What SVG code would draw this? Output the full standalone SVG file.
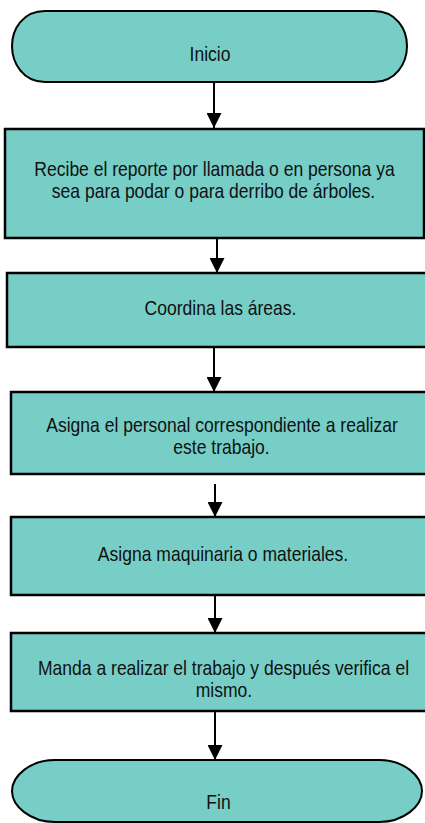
<svg xmlns="http://www.w3.org/2000/svg" width="425" height="823" viewBox="0 0 425 823">
<style>
.shape{fill:#76CEC7;stroke:#000;stroke-width:2.5}
.term{fill:#76CEC7;stroke:#000;stroke-width:2}
.lbl{font-family:"Liberation Sans",Arial,sans-serif;font-size:21px;fill:#111;text-anchor:middle}
.conn{stroke:#000;stroke-width:2;fill:none;marker-end:url(#ah)}
</style>
<defs>
<marker id="ah" markerUnits="userSpaceOnUse" markerWidth="15" markerHeight="15" viewBox="0 0 15 15" refX="15" refY="7.5" orient="auto">
<path d="M0,0 L15,7.5 L0,15 Z" fill="#000"/>
</marker>
</defs>
<rect width="425" height="823" fill="#fff"/>
<g id="connectors">
<line class="conn" x1="214" y1="82" x2="214" y2="128"/>
<line class="conn" x1="217" y1="239" x2="217" y2="273"/>
<line class="conn" x1="214" y1="348" x2="214" y2="392"/>
<line class="conn" x1="215" y1="484" x2="215" y2="517"/>
<line class="conn" x1="215" y1="596" x2="215" y2="633"/>
<line class="conn" x1="215" y1="712" x2="215" y2="760"/>
</g>
<g id="inicio">
<path class="term" d="M45,11 H374 C396,11 407,29 407,46 C407,63 396,82 374,82 H45 C23,82 12,63 12,46 C12,29 23,11 45,11 Z"/>
<text class="lbl" transform="translate(210,61) scale(0.835,1)">Inicio</text>
</g>
<g id="recibe">
<rect class="shape" x="5" y="129" width="419" height="109"/>
<text class="lbl" transform="translate(214.5,176) scale(0.835,1)">Recibe el reporte por llamada o en persona ya</text>
<text class="lbl" transform="translate(213.5,198) scale(0.835,1)">sea para podar o para derribo de árboles.</text>
</g>
<g id="coordina">
<rect class="shape" x="7" y="273" width="428" height="74"/>
<text class="lbl" transform="translate(220.5,315) scale(0.835,1)">Coordina las áreas.</text>
</g>
<g id="personal">
<rect class="shape" x="11" y="392" width="424" height="82"/>
<text class="lbl" transform="translate(222,432) scale(0.835,1)">Asigna el personal correspondiente a realizar</text>
<text class="lbl" transform="translate(221.5,454) scale(0.835,1)">este trabajo.</text>
</g>
<g id="maquinaria">
<rect class="shape" x="11" y="517" width="425" height="78"/>
<text class="lbl" transform="translate(223,561) scale(0.835,1)">Asigna maquinaria o materiales.</text>
</g>
<g id="manda">
<rect class="shape" x="11" y="633" width="426" height="78"/>
<text class="lbl" transform="translate(223.5,675) scale(0.835,1)">Manda a realizar el trabajo y después verifica el</text>
<text class="lbl" transform="translate(224,697) scale(0.835,1)">mismo.</text>
</g>
<g id="fin">
<path class="term" d="M55,760 H379 C404,760 422,776 422,791 C422,806 404,822 379,822 H55 C30,822 12,806 12,791 C12,776 30,760 55,760 Z"/>
<text class="lbl" transform="translate(218.5,809) scale(0.835,1)">Fin</text>
</g>
</svg>
